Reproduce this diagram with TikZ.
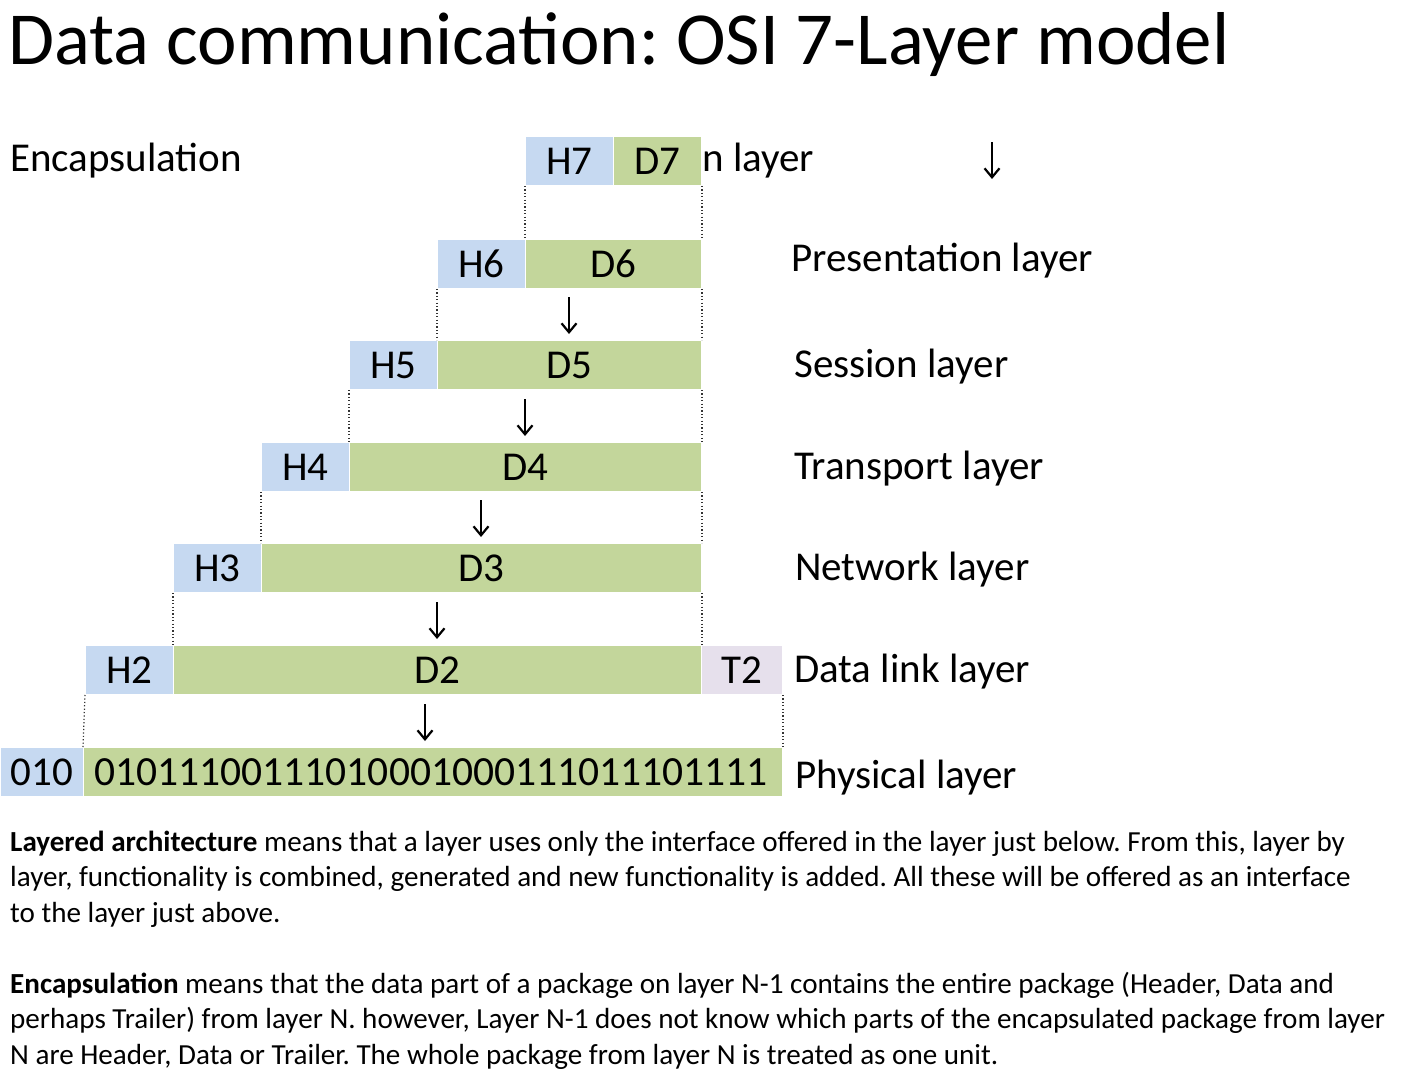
\documentclass[tikz,border=0pt]{standalone}
\usepackage{fontspec}
\setmainfont{Carlito}
\usetikzlibrary{arrows.meta}
\definecolor{hdrblue}{HTML}{C6D9F1}
\definecolor{datagreen}{HTML}{C3D69B}
\definecolor{trllilac}{HTML}{E6E0EC}
\newcommand{\lbl}{\fontsize{41}{49}\selectfont}
\frenchspacing
\begin{document}
\begin{tikzpicture}[x=1pt,y=-1pt,
  seg/.style={draw=white,line width=1pt,minimum height=49pt,inner sep=0pt,anchor=north west,font=\lbl},
  hseg/.style={seg,fill=hdrblue},
  dseg/.style={seg,fill=datagreen},
  tseg/.style={seg,fill=trllilac},
  guide/.style={black!80,line width=1.2pt,dash pattern=on 1.2pt off 2.2pt},
  down/.style={line width=2.2pt,-{Straight Barb[length=9pt,width=15pt,line width=2.2pt]}},
  lyr/.style={anchor=base west,inner sep=0pt,font=\lbl},
  para/.style={anchor=base west,inner sep=0pt,align=left,font=\fontsize{29.1}{35.5}\selectfont}]
\useasboundingbox (0,0) rectangle (1412,1070);

% title
\node[anchor=base west,inner sep=0pt,font=\fontsize{74.9}{80}\selectfont] (title) at (8,65) {Data communication: OSI 7-Layer model};

% layer names
\node[lyr] (enc) at (10,171) {Encapsulation};
\node[lyr] (app) at (702,171) {n layer};
\node[lyr] (pres) at (791,271) {Presentation layer};
\node[lyr] (sess) at (794,377) {Session layer};
\node[lyr] (trans) at (794,479) {Transport layer};
\node[lyr] (net) at (795,580) {Network layer};
\node[lyr] (link) at (794,682) {Data link layer};
\node[lyr] (phys) at (795,788) {Physical layer};

% packets, one row per layer
\node[hseg,minimum width=88pt] (h7) at (525,136) {H7};
\node[dseg,minimum width=88pt] (d7) at (613,136) {D7};

\node[hseg,minimum width=88pt] (h6) at (437,239) {H6};
\node[dseg,minimum width=176pt] (d6) at (525,239) {D6};

\node[hseg,minimum width=88pt] (h5) at (349,340) {H5};
\node[dseg,minimum width=264pt] (d5) at (437,340) {D5};

\node[hseg,minimum width=88pt] (h4) at (261,442) {H4};
\node[dseg,minimum width=352pt] (d4) at (349,442) {D4};

\node[hseg,minimum width=88pt] (h3) at (173,543) {H3};
\node[dseg,minimum width=440pt] (d3) at (261,543) {D3};

\node[hseg,minimum width=88pt] (h2) at (85,645) {H2};
\node[dseg,minimum width=528pt] (d2) at (173,645) {D2};
\node[tseg,minimum width=81pt] (t2) at (701,645) {T2};

\node[hseg,minimum width=83pt] (h1) at (0,747) {010};
\node[dseg,minimum width=699pt,font=\fontsize{41.5}{49}\selectfont] (bits) at (83,747) {01011100111010001000111011101111\hspace*{4pt}};

% dotted guides from each packet down to the next
\draw[guide] (h7.south west) -- (d6.north west);
\draw[guide] (d7.south east) -- (d6.north east);
\draw[guide] (h6.south west) -- (d5.north west);
\draw[guide] (d6.south east) -- (d5.north east);
\draw[guide] (h5.south west) -- (d4.north west);
\draw[guide] (d5.south east) -- (d4.north east);
\draw[guide] (h4.south west) -- (d3.north west);
\draw[guide] (d4.south east) -- (d3.north east);
\draw[guide] (h3.south west) -- (d2.north west);
\draw[guide] (d3.south east) -- (d2.north east);
\draw[guide] (h2.south west) -- (bits.north west);
\draw[guide] (t2.south east) -- (bits.north east);

% downward arrows
\coordinate (a0s) at (992,142);  \coordinate (a0e) at (992,179);
\coordinate (a1s) at (569,297);  \coordinate (a1e) at (569,334);
\coordinate (a2s) at (525,399);  \coordinate (a2e) at (525,436);
\coordinate (a3s) at (481,500);  \coordinate (a3e) at (481,537);
\coordinate (a4s) at (437,602);  \coordinate (a4e) at (437,639);
\coordinate (a5s) at (425,704);  \coordinate (a5e) at (425,741);
\draw[down] (a0s) -- (a0e);
\draw[down] (a1s) -- (a1e);
\draw[down] (a2s) -- (a2e);
\draw[down] (a3s) -- (a3e);
\draw[down] (a4s) -- (a4e);
\draw[down] (a5s) -- (a5e);

% explanatory text (anchored at the baseline of the last line)
\node[para] (p1) at (10,922) {\textbf{Layered architecture} means that a layer uses only the interface offered in the layer just below. From this, layer by\\
layer, functionality is combined, generated and new functionality is added. All these will be offered as an interface\\
to the layer just above.};
\node[para] (p2) at (10,1064) {\textbf{Encapsulation} means that the data part of a package on layer N-1 contains the entire package (Header, Data and\\
perhaps Trailer) from layer N. however, Layer N-1 does not know which parts of the encapsulated package from layer\\
N are Header, Data or Trailer. The whole package from layer N is treated as one unit.};
\end{tikzpicture}
\end{document}
